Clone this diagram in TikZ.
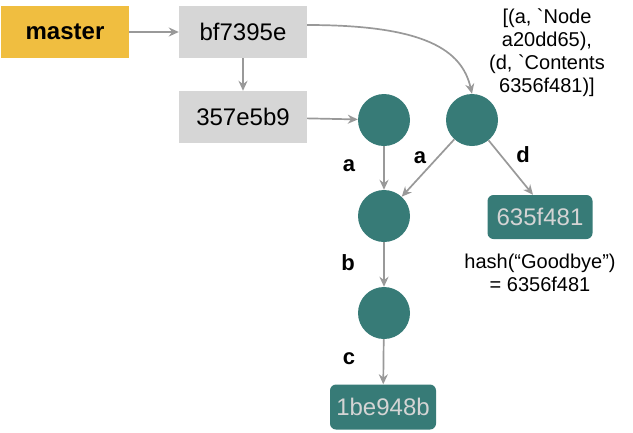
\documentclass[tikz,border=0pt]{standalone}
\usepackage{fontspec}
\setmainfont{Liberation Sans}[Ligatures=TeXOff]
\usetikzlibrary{arrows.meta}
\definecolor{branchyellow}{HTML}{F0BE40}
\definecolor{commitgray}{HTML}{D6D6D6}
\definecolor{treeteal}{HTML}{377B77}
\definecolor{arrowgray}{HTML}{999999}
\definecolor{hashtext}{HTML}{D4D4D4}
\begin{document}
\begin{tikzpicture}[x=1pt,y=-1pt,
  commit/.style={fill=commitgray,minimum width=128pt,minimum height=52pt,inner sep=0pt,font=\fontsize{24}{28}\selectfont},
  branch/.style={fill=branchyellow,minimum width=128pt,minimum height=52pt,inner sep=0pt,font=\fontsize{24}{28}\selectfont\bfseries},
  tree/.style={circle,fill=treeteal,minimum size=52pt,inner sep=0pt},
  blob/.style={fill=treeteal,rounded corners=6pt,minimum width=106pt,minimum height=45pt,inner sep=0pt,text=hashtext,font=\fontsize{24}{28}\selectfont},
  edgelbl/.style={font=\fontsize{22}{26}\selectfont\bfseries},
  note/.style={align=center,font=\fontsize{20}{23}\selectfont},
  arr/.style={draw=arrowgray,line width=1.7pt,-{Stealth[length=10pt,width=9pt]}}]
\useasboundingbox (0,0) rectangle (633,432);

% Branch and commits
\node[branch] (master) at (65,32) {master};
\node[commit] (head) at (243,32) {bf7395e};
\node[commit] (parent) at (243,117) {357e5b9};

% Trees
\node[tree] (oldroot) at (384,120) {};
\node[tree] (newroot) at (472,120) {};
\node[tree] (treeA) at (384,216) {};
\node[tree] (treeB) at (384,313) {};

% Blobs
\node[blob] (hello) at (383,407) {1be948b};
\node[blob,minimum width=105pt,minimum height=44pt] (goodbye) at (540,217) {635f481};

% Edges
\draw[arr] (master) -- (head);
\draw[arr] (head) -- (parent);
\draw[arr] (parent) -- (oldroot);
\draw[arr] ([yshift=7pt]head.east) .. controls (425,25) and (462,50) .. (newroot.north);
\draw[arr] (oldroot) -- (treeA);
\draw[arr] (newroot) -- (treeA);
\draw[arr] (newroot) -- ([xshift=-7pt]goodbye.north);
\draw[arr] (treeA) -- (treeB);
\draw[arr] (treeB) -- (hello);

% Edge labels
\node[edgelbl] (lblA1) at (349,166) {a};
\node[edgelbl] (lblA2) at (420,158) {a};
\node[edgelbl] (lblD) at (523,155) {d};
\node[edgelbl] (lblB) at (348,263) {b};
\node[edgelbl] (lblC) at (349,359) {c};

% Notes
\node[note] (treenote) at (547,53) {[(a, `Node\\a20dd65),\\(d, `Contents\\6356f481)]};
\node[note] (hashnote) at (540,273) {hash(“Goodbye”)\\= 6356f481};
\end{tikzpicture}
\end{document}
